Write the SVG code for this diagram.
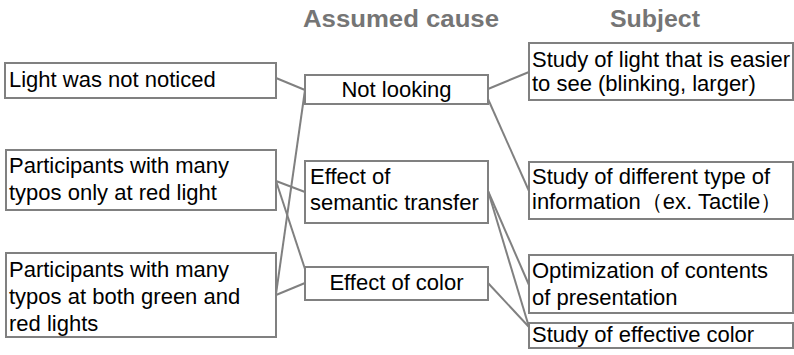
<svg xmlns="http://www.w3.org/2000/svg" width="794" height="355" viewBox="0 0 794 355">
<style>
.box{fill:#fff;stroke:#808080;stroke-width:2}
.t{font-family:"Liberation Sans",Arial,sans-serif;font-size:22px;fill:#000}
.c{text-anchor:middle}
.h{font-family:"Liberation Sans",Arial,sans-serif;font-size:23px;font-weight:bold;fill:#757575;text-anchor:middle}
.ln{stroke:#808080;stroke-width:2;fill:none}
</style>
<rect width="794" height="355" fill="#fff"/>
<g id="headers">
<text class="h" x="401" y="27" textLength="196" lengthAdjust="spacingAndGlyphs">Assumed cause</text>
<text class="h" x="655" y="27" textLength="90" lengthAdjust="spacingAndGlyphs">Subject</text>
</g>
<g id="connectors">
<line class="ln" x1="276" y1="78" x2="305" y2="90"/>
<line class="ln" x1="305" y1="90" x2="276" y2="294"/>
<line class="ln" x1="276" y1="181" x2="305" y2="192"/>
<line class="ln" x1="276" y1="181" x2="305" y2="269"/>
<line class="ln" x1="276" y1="295" x2="305" y2="283"/>
<line class="ln" x1="488" y1="89" x2="529" y2="72"/>
<line class="ln" x1="488" y1="99" x2="529" y2="191"/>
<line class="ln" x1="488" y1="191" x2="529" y2="285"/>
<line class="ln" x1="488" y1="191" x2="529" y2="327"/>
<line class="ln" x1="488" y1="283" x2="529" y2="327"/>
</g>
<g id="n-light-not-noticed">
<rect class="box" x="5" y="63" width="271" height="35"/>
<text class="t" x="9" y="87">Light was not noticed</text>
</g>
<g id="n-typos-red">
<rect class="box" x="6" y="150" width="270" height="60"/>
<text class="t" x="9" y="173">Participants with many</text>
<text class="t" x="9" y="200">typos only at red light</text>
</g>
<g id="n-typos-both">
<rect class="box" x="6" y="253" width="270" height="84"/>
<text class="t" x="9" y="277">Participants with many</text>
<text class="t" x="9" y="304">typos at both green and</text>
<text class="t" x="9" y="331">red lights</text>
</g>
<g id="n-not-looking">
<rect class="box" x="305" y="75" width="183" height="29"/>
<text class="t c" x="396.5" y="97">Not looking</text>
</g>
<g id="n-semantic">
<rect class="box" x="305" y="161" width="183" height="62"/>
<text class="t" x="310" y="184">Effect of</text>
<text class="t" x="310" y="210">semantic transfer</text>
</g>
<g id="n-color">
<rect class="box" x="305" y="267" width="183" height="33"/>
<text class="t c" x="396.5" y="290">Effect of color</text>
</g>
<g id="n-study-light">
<rect class="box" x="529" y="43" width="264" height="57"/>
<text class="t" x="532" y="67">Study of light that is easier</text>
<text class="t" x="532" y="91">to see (blinking, larger)</text>
</g>
<g id="n-study-info">
<rect class="box" x="529" y="162" width="264" height="57"/>
<text class="t" x="532" y="184">Study of different type of</text>
<text class="t" x="532" y="209">information（ex. Tactile）</text>
</g>
<g id="n-optimization">
<rect class="box" x="529" y="255" width="264" height="58"/>
<text class="t" x="532" y="278">Optimization of contents</text>
<text class="t" x="532" y="305">of presentation</text>
</g>
<g id="n-effective-color">
<rect class="box" x="529" y="323" width="264" height="25"/>
<text class="t" x="532" y="342">Study of effective color</text>
</g>
</svg>
